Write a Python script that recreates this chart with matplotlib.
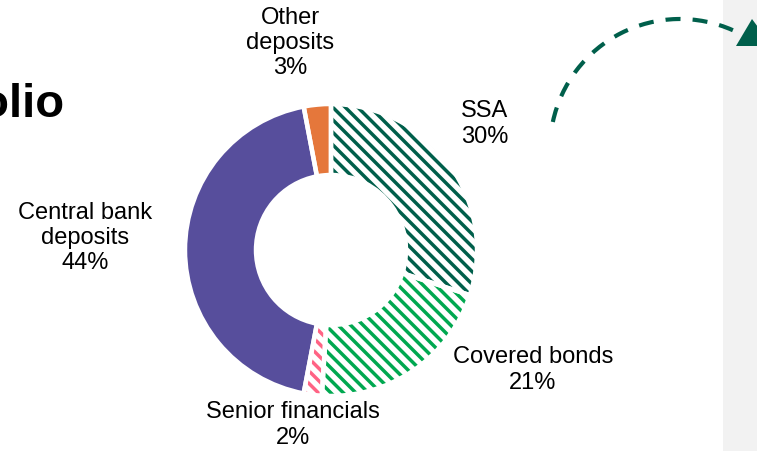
import matplotlib
matplotlib.use("Agg")
import numpy as np
from matplotlib import pyplot as plt
from matplotlib.collections import LineCollection
from matplotlib.patches import Arc, Polygon, Rectangle

plt.rcParams['font.family'] = ['Liberation Sans', 'DejaVu Sans']

# Portfolio split, clockwise from 12 o'clock
categories = ["SSA", "Covered bonds", "Senior financials", "Central bank deposits", "Other deposits"]
shares = [30, 21, 2, 44, 3]
label_texts = ["SSA\n30%", "Covered bonds\n21%", "Senior financials\n2%",
               "Central bank\ndeposits\n44%", "Other\ndeposits\n3%"]
colors = ["#005F4B", "#00A850", "#FF6384", "#574E9C", "#E5773B"]
hatched = [True, True, True, False, False]

# label anchor points (pixels)
label_pos = [(485, 124), (533, 370), (293, 425), (85, 238), (290, 43)]

W, H = 757, 452
fig = plt.figure(figsize=(W / 100, H / 100), dpi=100)
ax = fig.add_axes([0, 0, 1, 1])

cx, cy = 331, 251
r_out, r_in = 146, 75

# grey side panel
ax.add_patch(Rectangle((723, 0), W - 723, H, facecolor="#F2F2F2", edgecolor="none", zorder=0))

wedges, _ = ax.pie(shares, center=(cx, cy), radius=r_out, startangle=-90, counterclock=True,
                   wedgeprops=dict(width=r_out - r_in, linewidth=0))

# diagonal stripes, clipped to each hatched wedge
step = 12.5
offsets = np.arange(-2 * r_out - 40, 2 * r_out + 40, step)
for w, c, h in zip(wedges, colors, hatched):
    if h:
        w.set_facecolor("white")
        segs = [[(cx - r_out - 20, cy - r_out - 20 + o), (cx + r_out + 20, cy + r_out + 20 + o)]
                for o in offsets]
        lc = LineCollection(segs, colors=c, linewidths=2.5, zorder=1.5)
        ax.add_collection(lc)
        lc.set_clip_path(w)
    else:
        w.set_facecolor(c)
    w.set_edgecolor("none")

# white separators on top
ax.pie(shares, center=(cx, cy), radius=r_out, startangle=-90, counterclock=True,
       wedgeprops=dict(width=r_out - r_in, facecolor="none", edgecolor="white", linewidth=3.2, zorder=2))

for txt, (x, y) in zip(label_texts, label_pos):
    ax.text(x, y, txt, ha="center", va="center", fontsize=17, color="black", linespacing=1.2)

# title, running off the left edge
ax.text(65, 117, "Portfolio", ha="right", va="baseline", fontsize=34, fontweight="bold", color="black")

# dashed arrow towards the side panel
ax.add_patch(Arc((680, 150), 260, 260, theta1=-168, theta2=-66, color="#005F4B",
                 linewidth=3, linestyle=(0, (3.6, 2.9)), zorder=3))
ax.add_patch(Polygon([(736, 47), (752, 20), (772, 47)], closed=True, facecolor="#005F4B",
                     edgecolor="none", zorder=3))

ax.set_xlim(0, W)
ax.set_ylim(H, 0)
ax.set_aspect("equal")
ax.axis("off")

fig.savefig("out.png", dpi=100)
